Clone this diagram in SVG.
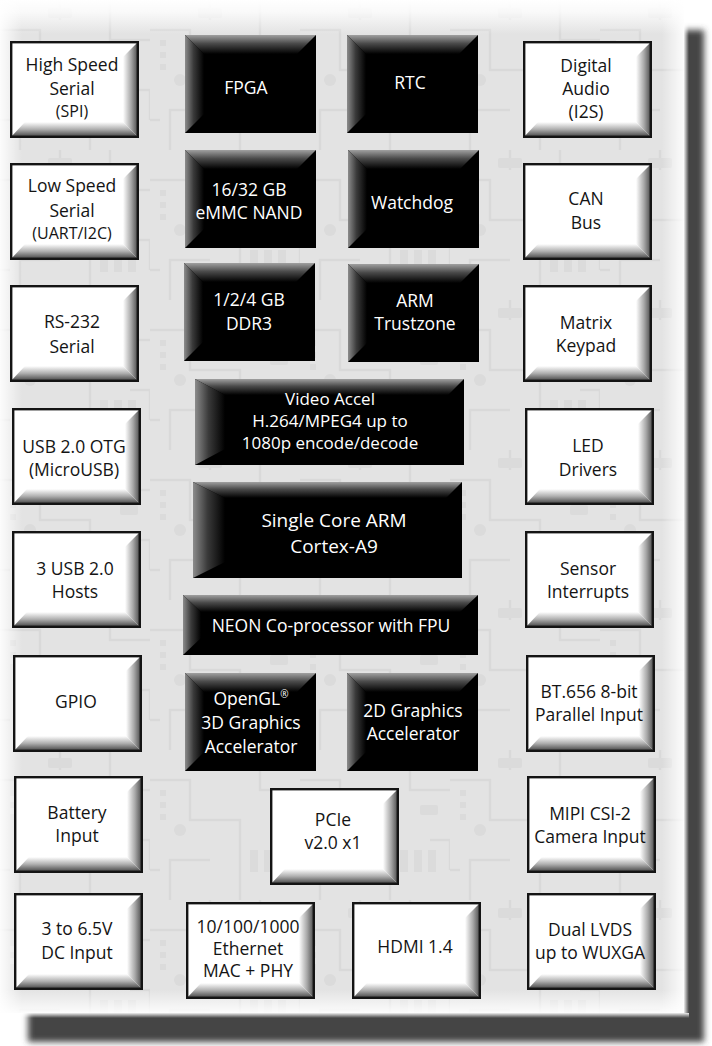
<svg xmlns="http://www.w3.org/2000/svg" xmlns:xlink="http://www.w3.org/1999/xlink" width="712" height="1046" viewBox="0 0 712 1046">
<style>
text{font-family:"Open Sans","Noto Sans","Liberation Sans",sans-serif;font-size:17.5px;text-anchor:middle}
.dk{fill:#141414}
.lt{fill:#ffffff}
.sm{font-size:16px}
.bg{font-size:19px}
.md{font-size:17px}
.sup{font-size:10px}
</style>
<defs>
<filter id="blur" x="-5%" y="-5%" width="110%" height="110%"><feGaussianBlur stdDeviation="3"/></filter>
<linearGradient id="gR" x1="0" y1="0" x2="1" y2="0"><stop offset="0" stop-color="#ffffff"/><stop offset="0.5" stop-color="#a8a8a8"/><stop offset="1" stop-color="#3c3c3c"/></linearGradient>
<linearGradient id="gB" x1="0" y1="0" x2="0" y2="1"><stop offset="0" stop-color="#ffffff"/><stop offset="0.45" stop-color="#b0b0b0"/><stop offset="1" stop-color="#333333"/></linearGradient>
<linearGradient id="gT" x1="0" y1="0" x2="0" y2="1"><stop offset="0" stop-color="#a0a0a0"/><stop offset="0.45" stop-color="#4a4a4a"/><stop offset="1" stop-color="#000000"/></linearGradient>
<linearGradient id="gL" x1="0" y1="0" x2="1" y2="0"><stop offset="0" stop-color="#8c8c8c"/><stop offset="0.45" stop-color="#3a3a3a"/><stop offset="1" stop-color="#000000"/></linearGradient>
<linearGradient id="fTop" x1="0" y1="0" x2="0" y2="1"><stop offset="0" stop-color="#fff" stop-opacity="1"/><stop offset="0.35" stop-color="#fff" stop-opacity="0.8"/><stop offset="1" stop-color="#fff" stop-opacity="0"/></linearGradient>
<linearGradient id="fLeft" x1="0" y1="0" x2="1" y2="0"><stop offset="0" stop-color="#fff" stop-opacity="0.9"/><stop offset="1" stop-color="#fff" stop-opacity="0"/></linearGradient>
<linearGradient id="fRight" x1="0" y1="0" x2="1" y2="0"><stop offset="0" stop-color="#fff" stop-opacity="0"/><stop offset="1" stop-color="#fff" stop-opacity="0.9"/></linearGradient>
<linearGradient id="fBot" x1="0" y1="0" x2="0" y2="1"><stop offset="0" stop-color="#fff" stop-opacity="0"/><stop offset="1" stop-color="#fff" stop-opacity="0.9"/></linearGradient>
<linearGradient id="sR" x1="0" y1="0" x2="1" y2="0"><stop offset="0" stop-color="#fff" stop-opacity="0.9"/><stop offset="1" stop-color="#fff" stop-opacity="0"/></linearGradient>
<linearGradient id="sB" x1="0" y1="0" x2="0" y2="1"><stop offset="0" stop-color="#fff" stop-opacity="0.9"/><stop offset="1" stop-color="#fff" stop-opacity="0"/></linearGradient>
<pattern id="pcb" width="150" height="150" patternUnits="userSpaceOnUse">
<g fill="none" stroke="#d5d5d5" stroke-width="2.5">
<path d="M0 30H40V70H90V150M110 0V40H150M20 150V110H60M130 90H150V120M0 120H10M60 0V20"/>
</g>
<g fill="#d8d8d8">
<rect x="48" y="8" width="24" height="10" rx="2"/>
<rect x="100" y="100" width="8" height="22"/>
<rect x="114" y="100" width="8" height="22"/>
<rect x="128" y="100" width="8" height="22"/>
<circle cx="30" cy="80" r="6"/>
<rect x="10" y="40" width="6" height="6"/><rect x="10" y="52" width="6" height="6"/><rect x="10" y="64" width="6" height="6"/>
<rect x="120" y="55" width="18" height="10" rx="2"/>
</g>
</pattern>
<g id="wbox">
<rect x="0" y="0" width="129" height="97" fill="#ffffff"/>
<polygon points="129,0 129,97 113,81 113,16" fill="url(#gR)"/>
<polygon points="0,97 129,97 113,81 15,81" fill="url(#gB)"/>
<rect x="1.2" y="1.2" width="126.6" height="94.6" fill="none" stroke="#141414" stroke-width="2.4"/>
</g>
<g id="bbox">
<rect x="0" y="0" width="131" height="98" fill="#000000"/>
<polygon points="0,0 131,0 112,19 19,19" fill="url(#gT)"/>
<polygon points="0,0 19,19 19,79 0,98" fill="url(#gL)"/>
</g>
</defs>

<g id="background">
<rect x="0" y="0" width="712" height="1046" fill="#ffffff"/>
<rect x="28" y="30" width="676" height="1012" fill="#444444" filter="url(#blur)"/>
<rect x="0" y="0" width="684" height="1013" fill="#e3e3e3"/>
<rect x="0" y="0" width="684" height="1013" fill="url(#pcb)" opacity="0.75"/>
<rect x="0" y="0" width="684" height="34" fill="url(#fTop)"/>
<rect x="0" y="0" width="22" height="1013" fill="url(#fLeft)"/>
<rect x="662" y="0" width="22" height="1013" fill="url(#fRight)"/>
<rect x="0" y="990" width="684" height="23" fill="url(#fBot)"/>
<rect x="684" y="0" width="5" height="1013" fill="url(#sR)"/>
<rect x="0" y="1013" width="689" height="5" fill="url(#sB)"/>
</g>

<g id="connectors"/>

<g id="hss"><use href="#wbox" x="10" y="41"/><text class="dk" x="72" y="71">High Speed</text><text class="dk" x="72" y="95">Serial</text><text class="dk sm" x="72" y="117">(SPI)</text></g>
<g id="lss"><use href="#wbox" x="10" y="163"/><text class="dk" x="72" y="192">Low Speed</text><text class="dk" x="72" y="217">Serial</text><text class="dk sm" x="72" y="239">(UART/I2C)</text></g>
<g id="rs232"><use href="#wbox" x="10" y="285"/><text class="dk" x="72" y="328">RS-232</text><text class="dk" x="72" y="353">Serial</text></g>
<g id="usbotg"><use href="#wbox" x="12" y="408"/><text class="dk" x="74" y="453">USB 2.0 OTG</text><text class="dk" x="74" y="476">(MicroUSB)</text></g>
<g id="usbhost"><use href="#wbox" x="12" y="531"/><text class="dk" x="75" y="575">3 USB 2.0</text><text class="dk" x="75" y="598">Hosts</text></g>
<g id="gpio"><use href="#wbox" x="13" y="655"/><text class="dk" x="76" y="708">GPIO</text></g>
<g id="battery"><use href="#wbox" x="14" y="776"/><text class="dk" x="77" y="819">Battery</text><text class="dk" x="77" y="842">Input</text></g>
<g id="dcinput"><use href="#wbox" x="14" y="893"/><text class="dk" x="77" y="935">3 to 6.5V</text><text class="dk" x="77" y="959">DC Input</text></g>

<g id="audio"><use href="#wbox" x="523" y="41"/><text class="dk" x="586" y="72">Digital</text><text class="dk" x="586" y="95">Audio</text><text class="dk" x="586" y="118">(I2S)</text></g>
<g id="can"><use href="#wbox" x="523" y="163"/><text class="dk" x="586" y="205">CAN</text><text class="dk" x="586" y="229">Bus</text></g>
<g id="keypad"><use href="#wbox" x="523" y="285"/><text class="dk" x="586" y="329">Matrix</text><text class="dk" x="586" y="352">Keypad</text></g>
<g id="led"><use href="#wbox" x="525" y="408"/><text class="dk" x="588" y="452">LED</text><text class="dk" x="588" y="476">Drivers</text></g>
<g id="sensor"><use href="#wbox" x="525" y="531"/><text class="dk" x="588" y="575">Sensor</text><text class="dk" x="588" y="598">Interrupts</text></g>
<g id="bt656"><use href="#wbox" x="526" y="655"/><text class="dk" x="589" y="698">BT.656 8-bit</text><text class="dk" x="589" y="721">Parallel Input</text></g>
<g id="mipi"><use href="#wbox" x="527" y="776"/><text class="dk" x="590" y="820">MIPI CSI-2</text><text class="dk" x="590" y="843">Camera Input</text></g>
<g id="lvds"><use href="#wbox" x="527" y="893"/><text class="dk" x="590" y="936">Dual LVDS</text><text class="dk" x="590" y="959">up to WUXGA</text></g>

<g id="pcie"><use href="#wbox" x="270" y="788"/><text class="dk" x="333" y="826">PCIe</text><text class="dk" x="333" y="849">v2.0 x1</text></g>
<g id="ethernet"><use href="#wbox" x="186" y="902"/><text class="dk" x="248" y="933">10/100/1000</text><text class="dk" x="248" y="955">Ethernet</text><text class="dk" x="248" y="977">MAC + PHY</text></g>
<g id="hdmi"><use href="#wbox" x="352" y="902"/><text class="dk" x="415" y="953">HDMI 1.4</text></g>

<g id="fpga"><use href="#bbox" x="185" y="35"/><text class="lt" x="246" y="94">FPGA</text></g>
<g id="rtc"><use href="#bbox" x="347" y="35"/><text class="lt" x="410" y="89">RTC</text></g>
<g id="emmc"><use href="#bbox" x="185" y="150"/><text class="lt" x="249" y="196">16/32 GB</text><text class="lt" x="249" y="219">eMMC NAND</text></g>
<g id="watchdog"><use href="#bbox" x="348" y="150"/><text class="lt" x="412" y="209">Watchdog</text></g>
<g id="ddr3"><use href="#bbox" x="184" y="263"/><text class="lt" x="249" y="306">1/2/4 GB</text><text class="lt" x="249" y="330">DDR3</text></g>
<g id="trustzone"><use href="#bbox" x="348" y="264"/><text class="lt" x="415" y="307">ARM</text><text class="lt" x="415" y="330">Trustzone</text></g>
<g id="video" transform="translate(195,379)">
<rect x="0" y="0" width="269" height="86" fill="#000"/>
<polygon points="0,0 269,0 253,16 30,16" fill="url(#gT)"/>
<polygon points="0,0 30,16 30,70 0,86" fill="url(#gL)"/>
<text class="lt md" x="135" y="26">Video Accel</text><text class="lt md" x="135" y="48">H.264/MPEG4 up to</text><text class="lt md" x="135" y="70">1080p encode/decode</text>
</g>
<g id="cpu" transform="translate(193,482)">
<rect x="0" y="0" width="269" height="96" fill="#000"/>
<polygon points="0,0 269,0 253,16 32,16" fill="url(#gT)"/>
<polygon points="0,0 32,16 32,80 0,96" fill="url(#gL)"/>
<text class="lt bg" x="141" y="45">Single Core ARM</text><text class="lt bg" x="141" y="71">Cortex-A9</text>
</g>
<g id="neon" transform="translate(183,595)">
<rect x="0" y="0" width="295" height="60" fill="#000"/>
<polygon points="0,0 295,0 277,17 18,17" fill="url(#gT)"/>
<polygon points="0,0 18,17 18,43 0,60" fill="url(#gL)"/>
<text class="lt" x="148" y="37">NEON Co-processor with FPU</text>
</g>
<g id="opengl"><use href="#bbox" x="185" y="673"/><text class="lt" x="251" y="705">OpenGL<tspan class="sup" dy="-7">®</tspan></text><text class="lt" x="251" y="729">3D Graphics</text><text class="lt" x="251" y="753">Accelerator</text></g>
<g id="g2d"><use href="#bbox" x="347" y="673"/><text class="lt" x="413" y="717">2D Graphics</text><text class="lt" x="413" y="740">Accelerator</text></g>
</svg>
